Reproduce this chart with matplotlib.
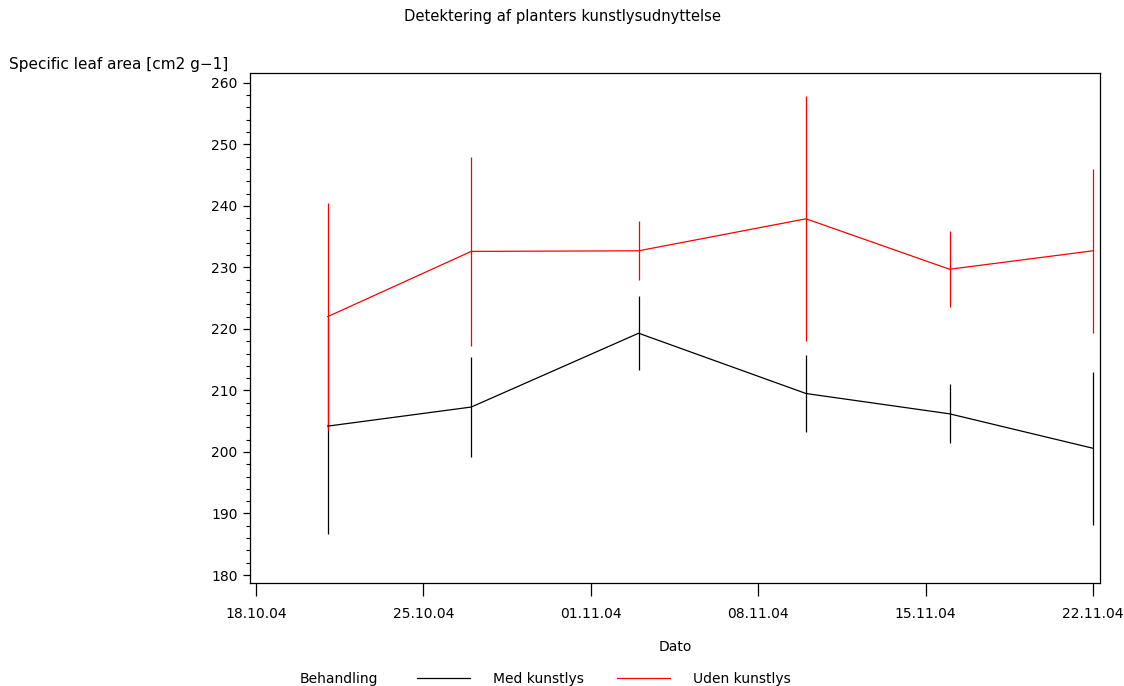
import datetime as dt
import matplotlib
matplotlib.use("Agg")
import matplotlib.pyplot as plt
from matplotlib.ticker import MultipleLocator

plt.rcParams['font.family'] = ['DejaVu Sans']

# Data
dates = ["21.10.04", "27.10.04", "03.11.04", "10.11.04", "16.11.04", "22.11.04"]
med_mean = [204.2, 207.3, 219.3, 209.5, 206.2, 200.6]
med_err = [17.5, 8.1, 6.0, 6.2, 4.8, 12.4]
uden_mean = [222.0, 232.6, 232.7, 237.9, 229.7, 232.7]
uden_err = [18.4, 15.4, 4.8, 19.9, 6.2, 13.3]
xtick_labels = ["18.10.04", "25.10.04", "01.11.04", "08.11.04", "15.11.04", "22.11.04"]
yticks = [180, 190, 200, 210, 220, 230, 240, 250, 260]

x = [dt.datetime.strptime(d, "%d.%m.%y") for d in dates]
xt = [dt.datetime.strptime(d, "%d.%m.%y") for d in xtick_labels]

fig = plt.figure(figsize=(11.24, 6.86), dpi=100)
ax = fig.add_axes([250/1124, 1-583/686, 850/1124, 510/686])

l1 = ax.errorbar(x, med_mean, yerr=med_err, color='black', lw=0.9, elinewidth=0.9,
                 capsize=0, label='Med kunstlys')
l2 = ax.errorbar(x, uden_mean, yerr=uden_err, color='#ff0000', lw=0.9, elinewidth=0.9,
                 capsize=0, label='Uden kunstlys')

ax.set_xlim(xt[0] - dt.timedelta(hours=6), xt[-1] + dt.timedelta(hours=7))
ax.set_ylim(178.7, 261.6)
ax.set_xticks(xt)
ax.set_xticklabels(xtick_labels)
ax.set_yticks(yticks)
ax.yaxis.set_minor_locator(MultipleLocator(2))
ax.tick_params(axis='both', labelsize=10, direction='out', width=0.9)
ax.tick_params(axis='y', which='major', length=5, pad=4)
ax.tick_params(axis='y', which='minor', length=3, width=0.8)
ax.tick_params(axis='x', which='major', length=9, pad=8)
for s in ax.spines.values():
    s.set_linewidth(0.9)

fig.text(563/1124, 1-17/686, "Detektering af planters kunstlysudnyttelse",
         ha='center', va='center', fontsize=10.6)
fig.text(9/1124, 1-64/686, "Specific leaf area [cm2 g\u22121]",
         ha='left', va='center', fontsize=11)
ax.set_xlabel("Dato", fontsize=10, labelpad=14)

fig.text(300/1124, 1-679/686, "Behandling", ha='left', va='center', fontsize=10)
fig.legend(handles=[l1.lines[0], l2.lines[0]], labels=['Med kunstlys', 'Uden kunstlys'],
           loc='center left', bbox_to_anchor=(417/1124, 1-679/686), ncol=2,
           frameon=False, fontsize=10, handlelength=3.8, handletextpad=1.65,
           columnspacing=2.4, borderaxespad=0, borderpad=0)

fig.savefig("out.png", dpi=100)
